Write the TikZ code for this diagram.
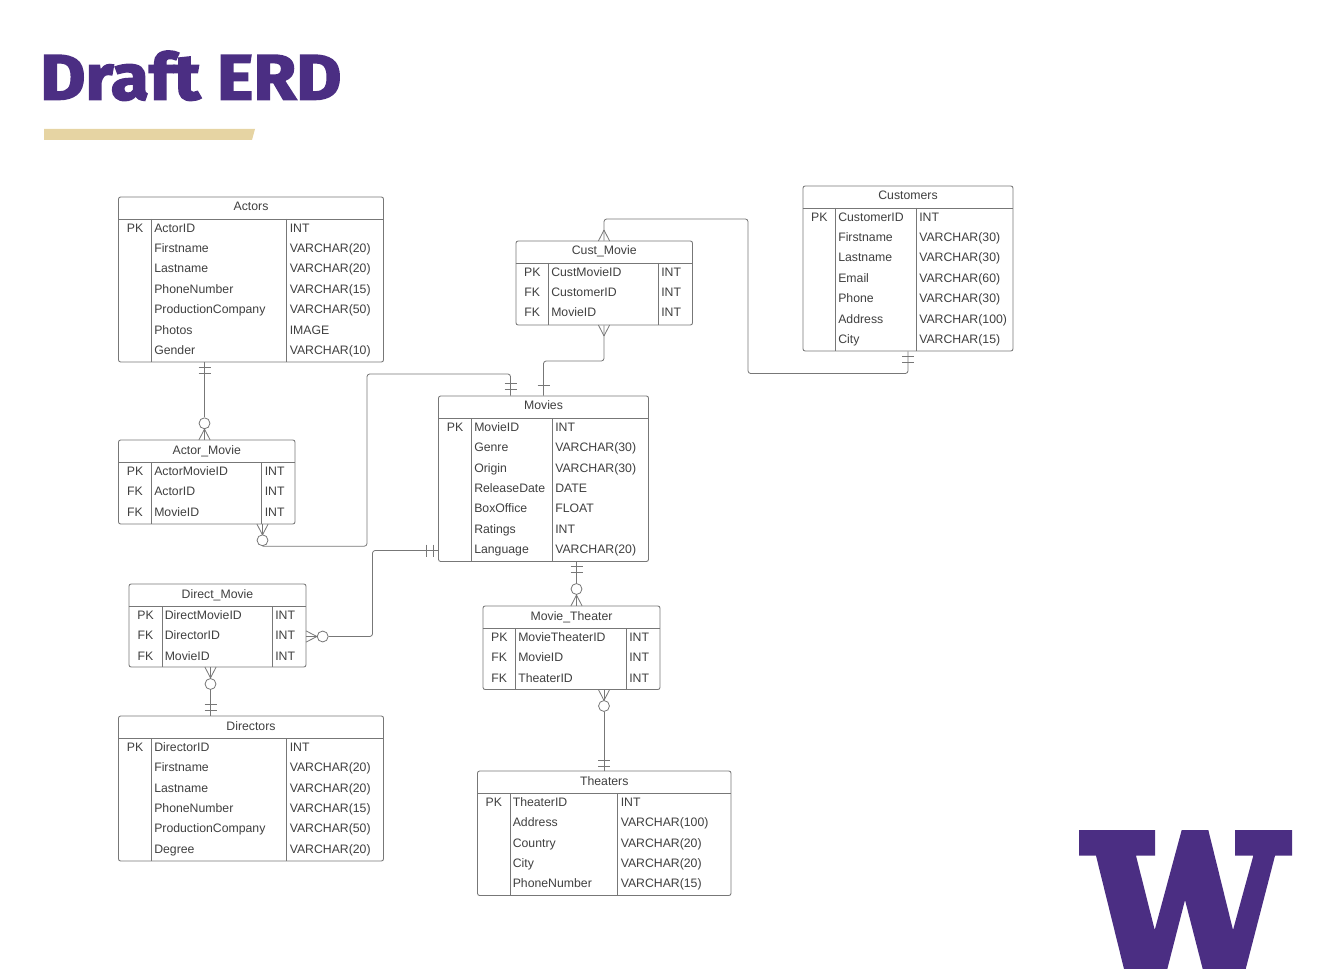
\documentclass[tikz,border=0pt]{standalone}
\usepackage{fontspec}
\setmainfont{Liberation Sans}
\newfontfamily\titlefont[BoldFeatures={FakeBold=2.6,FakeStretch=1.085}]{Fira Sans}
\definecolor{uwpurple}{HTML}{4B2E83}
\definecolor{uwgold}{HTML}{E6D4A3}
\definecolor{erdline}{HTML}{777777}
\definecolor{erdtext}{HTML}{404040}
\tikzset{
  erdbox/.style={draw=erdline,line width=0.65pt,rounded corners=1.6pt,inner sep=0pt,fill=white},
  erdrule/.style={draw=erdline,line width=0.6pt},
  erdlink/.style={draw=erdline,line width=0.6pt,rounded corners=2pt},
  erdtxt/.style={text=erdtext,font=\fontsize{9.2}{11}\selectfont,inner sep=0pt,anchor=base west},
  erdkey/.style={erdtxt,anchor=base},
  ocirc/.style={circle,draw=erdline,line width=0.6pt,fill=white,minimum size=8.2pt,inner sep=0pt},
}
% \erdtable{name}{x0}{col1}{col2}{x1}{y0}{y1}{title}{rows}
\newcommand{\erdtable}[9]{%
  \pgfmathsetmacro{\erdw}{(#5-#2)*0.75}%
  \pgfmathsetmacro{\erdh}{(#7-#6)*0.75}%
  \node[erdbox,minimum width=\erdw pt,minimum height=\erdh pt] (#1) at ({(#2+#5)/2},{(#6+#7)/2}) {};
  \node[erdkey] (#1-title) at ({(#2+#5)/2},#6+14) {#8};
  \coordinate (#1-h) at (#2,#6+22);
  \coordinate (#1-ca) at (#3,#6+22);
  \coordinate (#1-cb) at (#4,#6+22);
  \draw[erdrule] (#1.west |- #1-h) -- (#1.east |- #1-h);
  \draw[erdrule] (#1-ca) -- (#1-ca |- #1.south);
  \draw[erdrule] (#1-cb) -- (#1-cb |- #1.south);
  \foreach \k/\n/\t [count=\i from 0] in {#9}{
    \node[erdkey] (#1-k\i) at ({(#2+#3)/2},#6+35.2+20.4*\i) {\k};
    \node[erdtxt] (#1-n\i) at (#3+2.5,#6+35.2+20.4*\i) {\n};
    \node[erdtxt] (#1-t\i) at (#4+3,#6+35.2+20.4*\i) {\t};
  }
}
% crow foot: base centre (x,y), direction (dx,dy) toward apex
\newcommand{\erdcrow}[4]{%
  \draw[erdrule] ({#1+#3*11},{#2+#4*11}) -- ({#1+#4*5.6},{#2+#3*5.6});
  \draw[erdrule] ({#1+#3*11},{#2+#4*11}) -- ({#1-#4*5.6},{#2-#3*5.6});
}
\newcommand{\erdbarh}[2]{\draw[erdrule] ({#1-6},#2) -- ({#1+6},#2);}
\newcommand{\erdbarv}[2]{\draw[erdrule] (#1,{#2-6}) -- (#1,{#2+6});}
\begin{document}
\begin{tikzpicture}[x=0.75pt,y=-0.75pt]
\useasboundingbox (0,0) rectangle (1330,969);
% title
\node[inner sep=0pt,anchor=base west,text=uwpurple] (titletext) at (40,99.5) {\titlefont\bfseries\fontsize{48}{50}\selectfont Draft ERD};
\fill[uwgold] (44,129) -- (255,129) -- (252,140) -- (44,140) -- cycle;
% W logo
\fill[uwpurple] (1079,830) -- (1155,830) -- (1155,855.7) -- (1136,855.7) -- (1154.7,930) -- (1181.7,830) -- (1208.3,830) -- (1233,930) -- (1253.3,855.7) -- (1235,855.7) -- (1235,830) -- (1292,830) -- (1292,855.7) -- (1275,855.7) -- (1245.7,969) -- (1202.7,969) -- (1185,900) -- (1167.3,969) -- (1124,969) -- (1096,855.7) -- (1079,855.7) -- cycle;
% tables
\erdtable{actors}{118.5}{151.5}{286.5}{383.5}{197}{362}{Actors}{PK/ActorID/INT, /Firstname/VARCHAR(20), /Lastname/VARCHAR(20), /PhoneNumber/VARCHAR(15), /ProductionCompany/VARCHAR(50), /Photos/IMAGE, /Gender/VARCHAR(10)}
\erdtable{actormovie}{118.5}{151.5}{261.5}{295}{440}{524}{Actor\_Movie}{PK/ActorMovieID/INT, FK/ActorID/INT, FK/MovieID/INT}
\erdtable{custmovie}{516}{548.5}{658}{692.5}{241}{325}{Cust\_Movie}{PK/CustMovieID/INT, FK/CustomerID/INT, FK/MovieID/INT}
\erdtable{customers}{803}{835.5}{916}{1013}{186}{351}{Customers}{PK/CustomerID/INT, /Firstname/VARCHAR(30), /Lastname/VARCHAR(30), /Email/VARCHAR(60), /Phone/VARCHAR(30), /Address/VARCHAR(100), /City/VARCHAR(15)}
\erdtable{movies}{438.5}{471.5}{552}{648.5}{396}{561.5}{Movies}{PK/MovieID/INT, /Genre/VARCHAR(30), /Origin/VARCHAR(30), /ReleaseDate/DATE, /BoxOffice/FLOAT, /Ratings/INT, /Language/VARCHAR(20)}
\erdtable{directmovie}{129}{162}{272}{306}{584}{667}{Direct\_Movie}{PK/DirectMovieID/INT, FK/DirectorID/INT, FK/MovieID/INT}
\erdtable{directors}{118.5}{151.5}{286.5}{383.5}{716}{861}{Directors}{PK/DirectorID/INT, /Firstname/VARCHAR(20), /Lastname/VARCHAR(20), /PhoneNumber/VARCHAR(15), /ProductionCompany/VARCHAR(50), /Degree/VARCHAR(20)}
\erdtable{movietheater}{483}{515.5}{626}{660}{606}{689.5}{Movie\_Theater}{PK/MovieTheaterID/INT, FK/MovieID/INT, FK/TheaterID/INT}
\erdtable{theaters}{477.5}{510}{617.5}{731}{771}{895.5}{Theaters}{PK/TheaterID/INT, /Address/VARCHAR(100), /Country/VARCHAR(20), /City/VARCHAR(20), /PhoneNumber/VARCHAR(15)}
% connector anchors and optional circles
\node[ocirc] (oa) at (204.5,423.3) {};
\node[ocirc] (ob) at (262.5,540.3) {};
\node[ocirc] (oc) at (322.7,636.5) {};
\node[ocirc] (od) at (210.5,684) {};
\node[ocirc] (oe) at (576.5,589) {};
\node[ocirc] (of) at (604,706) {};
\coordinate (pcm) at (604,0);
\coordinate (pcb) at (908,0);
\coordinate (pma) at (510.5,0);
\coordinate (pmb) at (543.5,0);
\coordinate (pmd) at (0,550.5);
% connectors
\draw[erdrule] (actors.south -| oa) -- (oa.north);
\draw[erdrule] (oa.south) -- (actormovie.north -| oa);
\draw[erdrule] (actormovie.south -| ob) -- (ob.north);
\draw[erdlink] (ob.south) -| (367,374) -| (movies.north -| pma);
\draw[erdlink] (custmovie.north -| pcm) |- (748,219) |- (908,373.5) -- (customers.south -| pcb);
\draw[erdlink] (custmovie.south -| pcm) |- (543.5,361) -- (movies.north -| pmb);
\draw[erdlink] (movies.west |- pmd) -| (372.5,636.5) -- (oc.east);
\draw[erdrule] (oc.west) -- (directmovie.east |- oc);
\draw[erdrule] (directmovie.south -| od) -- (od.north);
\draw[erdrule] (od.south) -- (directors.north -| od);
\draw[erdrule] (movies.south -| oe) -- (oe.north);
\draw[erdrule] (oe.south) -- (movietheater.north -| oe);
\draw[erdrule] (movietheater.south -| of) -- (of.north);
\draw[erdrule] (of.south) -- (theaters.north -| of);
% crow feet
\erdcrow{204.5}{440}{0}{-1}
\erdcrow{262.5}{524}{0}{1}
\erdcrow{604}{241}{0}{-1}
\erdcrow{604}{325}{0}{1}
\erdcrow{306}{636.5}{1}{0}
\erdcrow{210.5}{667}{0}{1}
\erdcrow{576.5}{606}{0}{-1}
\erdcrow{604}{689.5}{0}{1}
% one-marks
\erdbarh{204.5}{367.5}\erdbarh{204.5}{373}
\erdbarh{510.5}{383}\erdbarh{510.5}{389.5}
\erdbarh{543.5}{385}
\erdbarh{908}{356}\erdbarh{908}{362}
\erdbarv{426}{550.5}\erdbarv{433}{550.5}
\erdbarh{210.5}{704}\erdbarh{210.5}{710.5}
\erdbarh{576.5}{566}\erdbarh{576.5}{572}
\erdbarh{604}{760}\erdbarh{604}{766.5}
\end{tikzpicture}
\end{document}
